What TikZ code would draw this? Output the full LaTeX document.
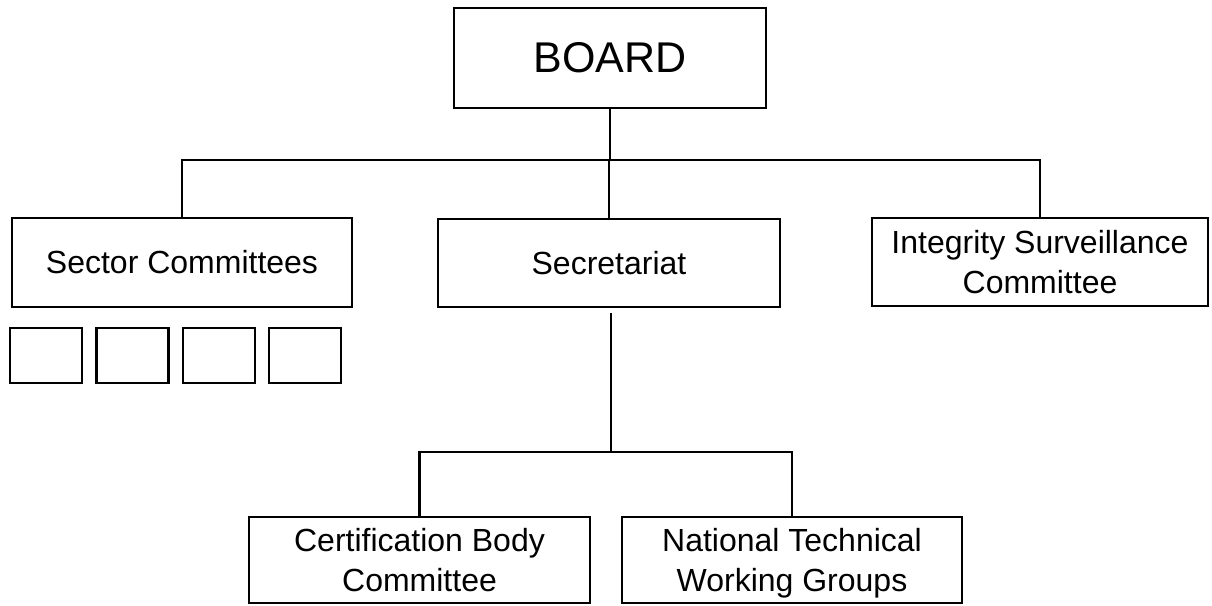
\documentclass[tikz,border=0pt]{standalone}
\usepackage{fontspec}
\setmainfont{Liberation Sans}
\begin{document}
\begin{tikzpicture}[x=1pt,y=-1pt,
  box/.style={draw, line width=2.8pt, inner sep=0pt, align=center, font=\fontsize{32}{40}\selectfont},
  sub/.style={draw, line width=2.8pt, inner sep=0pt, minimum width=72pt, minimum height=55pt},
  link/.style={line width=2.8pt}]
\useasboundingbox (0,0) rectangle (1212,605);
\node[box, minimum width=312pt, minimum height=100pt, font=\fontsize{43}{50}\selectfont] (board) at (610,58) {BOARD};
\node[box, minimum width=340pt, minimum height=89pt] (sector) at (182,262.5) {Sector Committees};
\node[box, minimum width=342pt, minimum height=88pt] (sec) at (609,263) {Secretariat};
\node[box, minimum width=336pt, minimum height=88pt] (integ) at (1040,262) {Integrity Surveillance\\Committee};
\node[sub] (s1) at (46,355.5) {};
\node[sub] (s2) at (132.5,355.5) {};
\node[sub] (s3) at (219,355.5) {};
\node[sub] (s4) at (305,355.5) {};
\node[box, minimum width=341pt, minimum height=86pt] (cert) at (419.5,560) {Certification Body\\Committee};
\node[box, minimum width=340pt, minimum height=86pt, text depth=0pt] (ntwg) at (792,560) {National Technical\\Working Groups};
\coordinate (j1) at (610,160);
\coordinate (j2) at (611,452);
\draw[link] (board.south) -- (j1);
\draw[link] (sector.north) |- (j1) -| (integ.north);
\draw[link] (sec.north) -- (sec.north |- j1);
\draw[link] ([yshift=-5pt]sec.south -| j2) -- (j2);
\draw[link] (cert.north) |- (j2) -| (ntwg.north);
\end{tikzpicture}
\end{document}
